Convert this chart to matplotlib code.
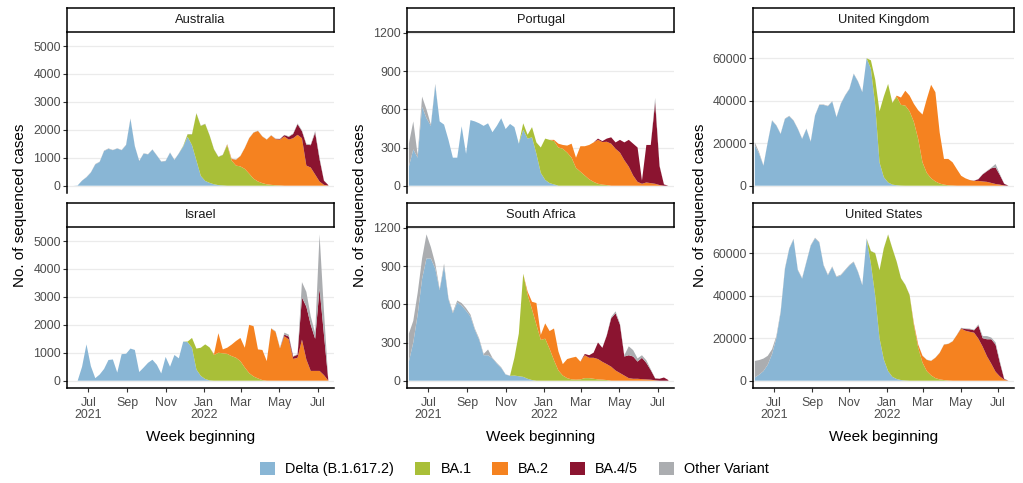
import numpy as np
import pandas as pd
import matplotlib
matplotlib.use("Agg")
from matplotlib import pyplot as plt
from matplotlib.patches import Patch

plt.rcParams['font.family'] = ['Liberation Sans', 'DejaVu Sans']

# weekly sequence counts, week beginning 2021-05-31 .. 2022-07-18 (60 weeks)
weeks = pd.date_range('2021-05-31', periods=60, freq='7D')

variants = ['Delta (B.1.617.2)', 'BA.1', 'BA.2', 'BA.4/5', 'Other Variant']
colours = ['#89B6D5', '#A9BF38', '#F58220', '#8B1430', '#ABADB0']

# Australia
au_delta = [0, 0, 10, 180, 300, 470, 760, 850, 1240, 1320,
            1270, 1330, 1270, 1450, 2390, 1410, 880, 1150, 1120, 1290,
            1080, 860, 880, 1180, 920, 1150, 1400, 1750, 1450, 900,
            350, 170, 100, 50, 20, 10, 0, 0, 0, 0,
            0, 0, 0, 0, 0, 0, 0, 0, 0, 0,
            0, 0, 0, 0, 0, 0, 0, 0, 0, 0]
au_ba1 = [0, 0, 0, 0, 0, 0, 0, 0, 0, 0,
          0, 0, 0, 0, 0, 0, 0, 0, 0, 0,
          0, 0, 0, 0, 0, 0, 20, 90, 390, 1690,
          1790, 2040, 1700, 1250, 1010, 1090, 1450, 900, 720, 690,
          600, 430, 250, 150, 90, 50, 30, 15, 10, 0,
          0, 0, 0, 0, 0, 0, 0, 0, 0, 0]
au_ba2 = [0] * 36 + [30, 60, 210, 370,
                     750, 1270, 1650, 1810, 1670, 1600, 1770, 1650, 1640, 1760,
                     1650, 1700, 1820, 1700, 720, 650, 400, 150, 30, 5]
au_ba45 = [0] * 47 + [10, 20, 50,
                      100, 150, 380, 250, 750, 800, 1500, 800, 150, 15]
au_other = [0, 0, 0, 5, 10, 10, 15, 10, 15, 15,
            10, 10, 10, 15, 20, 10, 10, 10, 10, 10,
            10, 10, 10, 10, 10, 10, 10, 10, 10, 10,
            10, 10, 10, 10, 10, 10, 10, 10, 10, 10,
            10, 10, 10, 10, 10, 10, 10, 10, 10, 10,
            20, 20, 30, 30, 30, 30, 60, 60, 10, 0]

# Israel
il_delta = [0, 0, 0, 500, 1300, 520, 90, 220, 420, 740,
            760, 290, 950, 960, 1150, 1100, 310, 470, 640, 750,
            570, 260, 850, 500, 920, 800, 1400, 1380, 1180, 400,
            170, 60, 10] + [0] * 27
il_ba1 = [0] * 27 + [20, 350, 750,
                     1010, 1240, 1180, 920, 1000, 980, 960, 880, 820, 700,
                     470, 270, 150, 80, 20] + [0] * 15
il_ba2 = [0] * 33 + [30, 700, 140, 220, 410, 600, 830,
                     710, 1730, 1800, 1040, 1080, 700, 1870, 1750, 1160, 1590,
                     1480, 780, 820, 1470, 760, 350, 350, 350, 200, 0]
il_ba45 = [0] * 49 + [60,
                      100, 80, 110, 1510, 1890, 1650, 1150, 2950, 1450, 0]
il_other = [0] * 46 + [10, 20, 20, 70,
                       70, 20, 20, 550, 530, 300, 200, 1940, 850, 0]

# Portugal
pt_delta = [150, 285, 220, 620, 530, 470, 790, 505, 480, 360,
            220, 220, 467, 250, 515, 505, 490, 470, 490, 420,
            470, 530, 445, 485, 460, 330, 440, 370, 380, 250,
            100, 45, 20, 10] + [0] * 26
pt_ba1 = [0] * 26 + [50, 30, 80, 90,
                     200, 325, 340, 340, 300, 290, 260, 220, 140, 110,
                     80, 50, 30, 15, 8, 5] + [0] * 14
pt_ba2 = [0] * 33 + [10, 30, 30, 55, 110, 80, 200,
                     230, 270, 310, 345, 335, 340, 330, 290, 260, 200,
                     150, 80, 30, 15, 25, 20, 15, 5, 0, 0]
pt_ba45 = [0] * 43 + [10, 7, 25, 50, 50, 100, 140,
                      210, 250, 270, 25, 295, 300, 640, 150, 10, 0]
pt_other = [180, 220, 20, 80, 70, 10, 10, 0, 0, 0] + [0] * 46 + [35, 5, 0, 0]

# South Africa
za_delta = [150, 300, 520, 800, 960, 960, 880, 710, 900, 640,
            530, 615, 590, 550, 505, 400, 320, 200, 200, 175,
            135, 100, 48, 38, 40, 35, 30, 15, 5] + [0] * 31
za_ba1 = [0] * 24 + [140, 335, 810, 660, 555, 440,
                     320, 330, 250, 160, 80, 40, 20, 10, 8, 10,
                     20, 20, 15, 10, 8, 5] + [0] * 14
za_ba2 = [0] * 27 + [25, 60, 170,
                     40, 120, 140, 250, 150, 90, 150, 170, 180, 140,
                     180, 160, 165, 160, 140, 125, 110, 80, 60, 40,
                     20, 15, 15, 12, 10, 8, 3, 0, 0, 0]
za_ba45 = [0] * 40 + [10, 20, 40, 130, 110, 225, 380, 450, 380, 150,
                      180, 175, 135, 168, 130, 75, 15, 15, 25, 5]
za_other = [220, 170, 170, 160, 190, 90, 40, 10, 20, 10,
            10, 15, 20, 20, 15, 10, 10, 10, 45, 5,
            5, 5, 2, 2, 0, 0, 0, 0, 0, 0,
            0, 0, 0, 0, 0, 0, 0, 0, 0, 0,
            0, 0, 0, 0, 0, 5, 10, 15, 10, 10,
            70, 50, 25, 20, 20, 7, 2, 0, 0, 0]

# United Kingdom
uk_delta = [19000, 15000, 9400, 20400, 30600, 28300, 24300, 31400, 32700, 30600,
            26700, 22000, 26700, 20700, 33000, 38000, 38000, 37400, 39600, 32200,
            38500, 42400, 45500, 52600, 49000, 44000, 60000, 55000, 38000, 11000,
            4000, 1500, 500, 200, 50] + [0] * 25
uk_ba1 = [0] * 27 + [4000, 12000, 24000,
                     38000, 46400, 38500, 41700, 38000, 37700, 35000, 30000, 22000, 11000,
                     6000, 3500, 2000, 1000, 500, 200, 100] + [0] * 13
uk_ba2 = [0] * 33 + [500, 3450, 7000, 7400, 8500, 13500, 22500,
                     34800, 44000, 42000, 24000, 12100, 12400, 10900, 7750, 4650, 3450,
                     2650, 2200, 2250, 2000, 1800, 1300, 800, 500, 100, 0]
uk_ba45 = [0] * 50 + [20, 100, 800, 3300, 5000, 6900, 7800, 4500, 800, 0]
uk_other = [1400, 700, 200, 200, 200, 200, 200, 200, 200, 200,
            200, 200, 200, 200, 200, 200, 200, 200, 200, 200,
            200, 200, 200, 200, 200, 200, 0, 0, 0, 0,
            0, 0, 0, 0, 0, 0, 0, 0, 0, 0,
            0, 0, 0, 0, 0, 0, 0, 0, 0, 0,
            0, 50, 100, 200, 200, 300, 1600, 500, 100, 0]

# United States
us_delta = [1500, 2800, 4500, 7500, 12500, 20000, 32000, 52500, 62000, 66500,
            52000, 48000, 55800, 63500, 67000, 65000, 54200, 49600, 53500, 48800,
            49600, 51900, 54200, 55800, 51100, 44900, 66700, 55000, 40000, 20000,
            10000, 4500, 1800, 800, 300, 100] + [0] * 24
us_ba1 = [0] * 27 + [6000, 20000, 32000,
                     52300, 64300, 60400, 55200, 47900, 45000, 40300, 26000, 15500, 8500,
                     4500, 2500, 1200, 600, 300, 100] + [0] * 14
us_ba2 = [0] * 36 + [100, 1000, 1500, 3200,
                     5300, 6800, 9600, 12500, 16700, 17200, 18500, 21500, 24500, 23500,
                     23000, 22600, 19800, 16000, 11500, 8000, 4200, 2000, 500, 0]
us_ba45 = [0] * 48 + [200, 800,
                      1200, 1100, 6200, 4000, 8000, 11500, 12800, 6500, 300, 0]
us_other = [7800, 6900, 5900, 4200, 2300, 1000, 700, 500, 300, 300,
            300, 300, 300, 300, 300, 300, 300, 300, 300, 300,
            300, 300, 300, 300, 300, 300, 300, 100, 100, 100,
            100, 100, 100, 100, 100, 100, 100, 100, 100, 100,
            100, 100, 100, 100, 100, 100, 100, 100, 200, 300,
            300, 300, 500, 1000, 1500, 800, 1000, 800, 200, 0]

# three columns of two facets each, y scale shared within a column
columns = [
    [('Australia', [au_delta, au_ba1, au_ba2, au_ba45, au_other]),
     ('Israel', [il_delta, il_ba1, il_ba2, il_ba45, il_other])],
    [('Portugal', [pt_delta, pt_ba1, pt_ba2, pt_ba45, pt_other]),
     ('South Africa', [za_delta, za_ba1, za_ba2, za_ba45, za_other])],
    [('United Kingdom', [uk_delta, uk_ba1, uk_ba2, uk_ba45, uk_other]),
     ('United States', [us_delta, us_ba1, us_ba2, us_ba45, us_other])],
]
column_yticks = [[0, 1000, 2000, 3000, 4000, 5000],
                 [0, 300, 600, 900, 1200],
                 [0, 20000, 40000, 60000]]

month_ticks = pd.to_datetime(['2021-07-01', '2021-09-01', '2021-11-01', '2022-01-01',
                              '2022-03-01', '2022-05-01', '2022-07-01'])
month_labels = ['Jul\n2021', 'Sep', 'Nov', 'Jan\n2022', 'Mar', 'May', 'Jul']
x_range = pd.to_datetime(['2021-05-28', '2022-07-27'])

W, H = 1023, 483
fig = plt.figure(figsize=(W / 100, H / 100), dpi=100)


def px_axes(left, top, width, height):
    return fig.add_axes([left / W, 1 - (top + height) / H, width / W, height / H])


col_left = [67, 407, 753]
col_width = [267, 267, 261]
panel_top = [32, 227]
panel_h = 161
strip_h = 24
ylab_x = [20, 360, 700]

for c, panels in enumerate(columns):
    ymax = max(np.sum(np.array(s), axis=0).max() for _, s in panels)
    for r, (country, series) in enumerate(panels):
        ax = px_axes(col_left[c], panel_top[r], col_width[c], panel_h)
        ax.stackplot(weeks, *[np.array(s) for s in series], colors=colours,
                     linewidth=0)
        ax.set_xlim(x_range[0], x_range[1])
        ax.set_ylim(-0.05 * ymax, 1.05 * ymax)
        ax.set_yticks(column_yticks[c])
        ax.yaxis.grid(True, color='#EBEBEB', linewidth=0.9)
        ax.set_axisbelow(True)
        for side in ['top', 'right']:
            ax.spines[side].set_visible(False)
        ax.spines['left'].set_linewidth(1.1)
        ax.tick_params(axis='y', length=2.7, width=0.8, color='#333333',
                       labelsize=8.9, labelcolor='#4D4D4D', pad=1.8)
        ax.set_xticks(month_ticks)
        if r == 1:
            ax.spines['bottom'].set_linewidth(1.1)
            ax.set_xticklabels(month_labels, linespacing=1.0)
            ax.tick_params(axis='x', length=2.7, width=0.8, color='#333333',
                           labelsize=8.9, labelcolor='#4D4D4D', pad=4)
        else:
            ax.spines['bottom'].set_visible(False)
            ax.tick_params(axis='x', length=0, labelbottom=False)

        # facet strip
        sax = px_axes(col_left[c], panel_top[r] - strip_h, col_width[c], strip_h)
        sax.set_xticks([])
        sax.set_yticks([])
        for sp in sax.spines.values():
            sp.set_linewidth(1.1)
            sp.set_color('black')
        sax.text(0.5, 0.5, country, ha='center', va='center', fontsize=9.3,
                 color='#1A1A1A', transform=sax.transAxes)

    fig.text(ylab_x[c] / W, 1 - 205 / H, 'No. of sequenced cases', rotation=90,
             ha='center', va='center', fontsize=11)
    fig.text((col_left[c] + col_width[c] / 2) / W, 1 - 437 / H, 'Week beginning',
             ha='center', va='center', fontsize=11)

handles = [Patch(facecolor=col, edgecolor='none', label=v) for v, col in zip(variants, colours)]
fig.legend(handles=handles, loc='center', bbox_to_anchor=(0.503, 1 - 469 / H), ncol=5,
           frameon=False, fontsize=10.4, handlelength=1.05, handleheight=1.05,
           handletextpad=0.7, columnspacing=1.45)

plt.savefig('out.png', dpi=100)
plt.close()
